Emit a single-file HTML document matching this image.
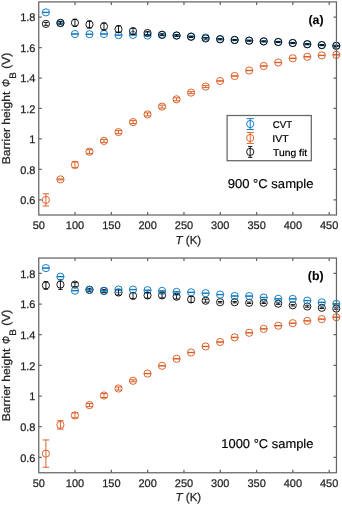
<!DOCTYPE html><html><head><meta charset="utf-8"><style>html,body{margin:0;padding:0;background:#fff;overflow:hidden;}svg{display:block;will-change:transform;}text{font-family:"Liberation Sans",sans-serif;fill:#262626;stroke:#262626;stroke-width:.25px;text-rendering:geometricPrecision;}text.k{fill:#000;stroke:#000;stroke-width:.18px;}text.l{fill:#000;stroke:#000;stroke-width:.22px;}text.b{fill:#000;stroke:#000;stroke-width:.1px;}</style></head><body>
<svg width="342" height="506" viewBox="0 0 342 506">
<g fill="none" stroke-width="0.9">
<path d="M45.90,12.20V12.60M42.60,12.20H49.20M42.60,12.60H49.20" stroke="#0072BD"/><circle cx="45.90" cy="12.40" r="3.6" stroke="#0072BD"/>
<path d="M60.42,22.90V23.30M57.12,22.90H63.72M57.12,23.30H63.72" stroke="#0072BD"/><circle cx="60.42" cy="23.10" r="3.6" stroke="#0072BD"/>
<path d="M74.94,33.80V34.20M71.64,33.80H78.24M71.64,34.20H78.24" stroke="#0072BD"/><circle cx="74.94" cy="34.00" r="3.6" stroke="#0072BD"/>
<path d="M89.46,34.00V34.40M86.16,34.00H92.76M86.16,34.40H92.76" stroke="#0072BD"/><circle cx="89.46" cy="34.20" r="3.6" stroke="#0072BD"/>
<path d="M103.98,33.80V34.20M100.68,33.80H107.28M100.68,34.20H107.28" stroke="#0072BD"/><circle cx="103.98" cy="34.00" r="3.6" stroke="#0072BD"/>
<path d="M118.50,34.90V35.30M115.20,34.90H121.80M115.20,35.30H121.80" stroke="#0072BD"/><circle cx="118.50" cy="35.10" r="3.6" stroke="#0072BD"/>
<path d="M133.02,34.70V35.10M129.72,34.70H136.32M129.72,35.10H136.32" stroke="#0072BD"/><circle cx="133.02" cy="34.90" r="3.6" stroke="#0072BD"/>
<path d="M147.54,35.30V35.70M144.24,35.30H150.84M144.24,35.70H150.84" stroke="#0072BD"/><circle cx="147.54" cy="35.50" r="3.6" stroke="#0072BD"/>
<path d="M162.06,34.80V35.20M158.76,34.80H165.36M158.76,35.20H165.36" stroke="#0072BD"/><circle cx="162.06" cy="35.00" r="3.6" stroke="#0072BD"/>
<path d="M176.58,35.40V35.80M173.28,35.40H179.88M173.28,35.80H179.88" stroke="#0072BD"/><circle cx="176.58" cy="35.60" r="3.6" stroke="#0072BD"/>
<path d="M191.10,36.30V36.70M187.80,36.30H194.40M187.80,36.70H194.40" stroke="#0072BD"/><circle cx="191.10" cy="36.50" r="3.6" stroke="#0072BD"/>
<path d="M205.62,37.40V37.80M202.32,37.40H208.92M202.32,37.80H208.92" stroke="#0072BD"/><circle cx="205.62" cy="37.60" r="3.6" stroke="#0072BD"/>
<path d="M220.14,38.80V39.20M216.84,38.80H223.44M216.84,39.20H223.44" stroke="#0072BD"/><circle cx="220.14" cy="39.00" r="3.6" stroke="#0072BD"/>
<path d="M234.66,39.70V40.10M231.36,39.70H237.96M231.36,40.10H237.96" stroke="#0072BD"/><circle cx="234.66" cy="39.90" r="3.6" stroke="#0072BD"/>
<path d="M249.18,40.40V40.80M245.88,40.40H252.48M245.88,40.80H252.48" stroke="#0072BD"/><circle cx="249.18" cy="40.60" r="3.6" stroke="#0072BD"/>
<path d="M263.70,41.20V41.60M260.40,41.20H267.00M260.40,41.60H267.00" stroke="#0072BD"/><circle cx="263.70" cy="41.40" r="3.6" stroke="#0072BD"/>
<path d="M278.22,41.80V42.20M274.92,41.80H281.52M274.92,42.20H281.52" stroke="#0072BD"/><circle cx="278.22" cy="42.00" r="3.6" stroke="#0072BD"/>
<path d="M292.74,42.80V43.20M289.44,42.80H296.04M289.44,43.20H296.04" stroke="#0072BD"/><circle cx="292.74" cy="43.00" r="3.6" stroke="#0072BD"/>
<path d="M307.26,44.00V44.40M303.96,44.00H310.56M303.96,44.40H310.56" stroke="#0072BD"/><circle cx="307.26" cy="44.20" r="3.6" stroke="#0072BD"/>
<path d="M321.78,44.90V45.30M318.48,44.90H325.08M318.48,45.30H325.08" stroke="#0072BD"/><circle cx="321.78" cy="45.10" r="3.6" stroke="#0072BD"/>
<path d="M336.30,45.60V46.00M333.00,45.60H339.60M333.00,46.00H339.60" stroke="#0072BD"/><circle cx="336.30" cy="45.80" r="3.6" stroke="#0072BD"/>
<path d="M45.90,193.80V206.00M42.60,193.80H49.20M42.60,206.00H49.20" stroke="#D95319"/><circle cx="45.90" cy="199.90" r="3.6" stroke="#D95319"/>
<path d="M60.42,178.90V179.90M57.12,178.90H63.72M57.12,179.90H63.72" stroke="#D95319"/><circle cx="60.42" cy="179.40" r="3.6" stroke="#D95319"/>
<path d="M74.94,161.80V167.80M71.64,161.80H78.24M71.64,167.80H78.24" stroke="#D95319"/><circle cx="74.94" cy="164.80" r="3.6" stroke="#D95319"/>
<path d="M89.46,149.70V153.70M86.16,149.70H92.76M86.16,153.70H92.76" stroke="#D95319"/><circle cx="89.46" cy="151.70" r="3.6" stroke="#D95319"/>
<path d="M103.98,139.40V142.40M100.68,139.40H107.28M100.68,142.40H107.28" stroke="#D95319"/><circle cx="103.98" cy="140.90" r="3.6" stroke="#D95319"/>
<path d="M118.50,130.60V133.60M115.20,130.60H121.80M115.20,133.60H121.80" stroke="#D95319"/><circle cx="118.50" cy="132.10" r="3.6" stroke="#D95319"/>
<path d="M133.02,120.60V123.60M129.72,120.60H136.32M129.72,123.60H136.32" stroke="#D95319"/><circle cx="133.02" cy="122.10" r="3.6" stroke="#D95319"/>
<path d="M147.54,112.90V115.90M144.24,112.90H150.84M144.24,115.90H150.84" stroke="#D95319"/><circle cx="147.54" cy="114.40" r="3.6" stroke="#D95319"/>
<path d="M162.06,105.10V108.10M158.76,105.10H165.36M158.76,108.10H165.36" stroke="#D95319"/><circle cx="162.06" cy="106.60" r="3.6" stroke="#D95319"/>
<path d="M176.58,97.80V100.80M173.28,97.80H179.88M173.28,100.80H179.88" stroke="#D95319"/><circle cx="176.58" cy="99.30" r="3.6" stroke="#D95319"/>
<path d="M191.10,91.60V93.60M187.80,91.60H194.40M187.80,93.60H194.40" stroke="#D95319"/><circle cx="191.10" cy="92.60" r="3.6" stroke="#D95319"/>
<path d="M205.62,85.60V87.60M202.32,85.60H208.92M202.32,87.60H208.92" stroke="#D95319"/><circle cx="205.62" cy="86.60" r="3.6" stroke="#D95319"/>
<path d="M220.14,80.80V81.20M216.84,80.80H223.44M216.84,81.20H223.44" stroke="#D95319"/><circle cx="220.14" cy="81.00" r="3.6" stroke="#D95319"/>
<path d="M234.66,75.80V76.20M231.36,75.80H237.96M231.36,76.20H237.96" stroke="#D95319"/><circle cx="234.66" cy="76.00" r="3.6" stroke="#D95319"/>
<path d="M249.18,70.30V70.70M245.88,70.30H252.48M245.88,70.70H252.48" stroke="#D95319"/><circle cx="249.18" cy="70.50" r="3.6" stroke="#D95319"/>
<path d="M263.70,65.80V66.20M260.40,65.80H267.00M260.40,66.20H267.00" stroke="#D95319"/><circle cx="263.70" cy="66.00" r="3.6" stroke="#D95319"/>
<path d="M278.22,62.30V62.70M274.92,62.30H281.52M274.92,62.70H281.52" stroke="#D95319"/><circle cx="278.22" cy="62.50" r="3.6" stroke="#D95319"/>
<path d="M292.74,58.10V58.50M289.44,58.10H296.04M289.44,58.50H296.04" stroke="#D95319"/><circle cx="292.74" cy="58.30" r="3.6" stroke="#D95319"/>
<path d="M307.26,56.60V57.00M303.96,56.60H310.56M303.96,57.00H310.56" stroke="#D95319"/><circle cx="307.26" cy="56.80" r="3.6" stroke="#D95319"/>
<path d="M321.78,55.20V55.60M318.48,55.20H325.08M318.48,55.60H325.08" stroke="#D95319"/><circle cx="321.78" cy="55.40" r="3.6" stroke="#D95319"/>
<path d="M336.30,54.60V55.00M333.00,54.60H339.60M333.00,55.00H339.60" stroke="#D95319"/><circle cx="336.30" cy="54.80" r="3.6" stroke="#D95319"/>
<path d="M45.90,22.45V25.35M43.70,22.45H48.10M43.70,25.35H48.10" stroke="#000000"/><circle cx="45.90" cy="23.90" r="3.6" stroke="#000000"/>
<path d="M60.42,21.50V24.30M58.22,21.50H62.62M58.22,24.30H62.62" stroke="#000000"/><circle cx="60.42" cy="22.90" r="3.6" stroke="#000000"/>
<path d="M74.94,19.20V26.40M72.74,19.20H77.14M72.74,26.40H77.14" stroke="#000000"/><circle cx="74.94" cy="22.80" r="3.6" stroke="#000000"/>
<path d="M89.46,20.90V28.10M87.26,20.90H91.66M87.26,28.10H91.66" stroke="#000000"/><circle cx="89.46" cy="24.50" r="3.6" stroke="#000000"/>
<path d="M103.98,22.90V30.10M101.78,22.90H106.18M101.78,30.10H106.18" stroke="#000000"/><circle cx="103.98" cy="26.50" r="3.6" stroke="#000000"/>
<path d="M118.50,25.80V32.60M116.30,25.80H120.70M116.30,32.60H120.70" stroke="#000000"/><circle cx="118.50" cy="29.20" r="3.6" stroke="#000000"/>
<path d="M133.02,28.20V34.20M130.82,28.20H135.22M130.82,34.20H135.22" stroke="#000000"/><circle cx="133.02" cy="31.20" r="3.6" stroke="#000000"/>
<path d="M147.54,31.40V34.60M145.34,31.40H149.74M145.34,34.60H149.74" stroke="#000000"/><circle cx="147.54" cy="33.00" r="3.6" stroke="#000000"/>
<path d="M162.06,33.70V35.70M159.86,33.70H164.26M159.86,35.70H164.26" stroke="#000000"/><circle cx="162.06" cy="34.70" r="3.6" stroke="#000000"/>
<path d="M176.58,34.50V36.50M174.38,34.50H178.78M174.38,36.50H178.78" stroke="#000000"/><circle cx="176.58" cy="35.50" r="3.6" stroke="#000000"/>
<path d="M191.10,36.10V37.50M188.90,36.10H193.30M188.90,37.50H193.30" stroke="#000000"/><circle cx="191.10" cy="36.80" r="3.6" stroke="#000000"/>
<path d="M205.62,37.80V39.20M203.42,37.80H207.82M203.42,39.20H207.82" stroke="#000000"/><circle cx="205.62" cy="38.50" r="3.6" stroke="#000000"/>
<path d="M220.14,38.70V39.90M217.94,38.70H222.34M217.94,39.90H222.34" stroke="#000000"/><circle cx="220.14" cy="39.30" r="3.6" stroke="#000000"/>
<path d="M234.66,39.40V40.60M232.46,39.40H236.86M232.46,40.60H236.86" stroke="#000000"/><circle cx="234.66" cy="40.00" r="3.6" stroke="#000000"/>
<path d="M249.18,40.10V41.30M246.98,40.10H251.38M246.98,41.30H251.38" stroke="#000000"/><circle cx="249.18" cy="40.70" r="3.6" stroke="#000000"/>
<path d="M263.70,40.80V42.00M261.50,40.80H265.90M261.50,42.00H265.90" stroke="#000000"/><circle cx="263.70" cy="41.40" r="3.6" stroke="#000000"/>
<path d="M278.22,41.40V42.60M276.02,41.40H280.42M276.02,42.60H280.42" stroke="#000000"/><circle cx="278.22" cy="42.00" r="3.6" stroke="#000000"/>
<path d="M292.74,42.40V43.60M290.54,42.40H294.94M290.54,43.60H294.94" stroke="#000000"/><circle cx="292.74" cy="43.00" r="3.6" stroke="#000000"/>
<path d="M307.26,43.60V44.80M305.06,43.60H309.46M305.06,44.80H309.46" stroke="#000000"/><circle cx="307.26" cy="44.20" r="3.6" stroke="#000000"/>
<path d="M321.78,44.50V45.70M319.58,44.50H323.98M319.58,45.70H323.98" stroke="#000000"/><circle cx="321.78" cy="45.10" r="3.6" stroke="#000000"/>
<path d="M336.30,45.20V46.40M334.10,45.20H338.50M334.10,46.40H338.50" stroke="#000000"/><circle cx="336.30" cy="45.80" r="3.6" stroke="#000000"/>
</g>
<rect x="38.75" y="1.9" width="297.70" height="213.10" fill="none" stroke="#666666" stroke-width="1.25"/>
<path d="M75.05,215.00v-3.0M75.05,1.90v3.0M111.36,215.00v-3.0M111.36,1.90v3.0M147.66,215.00v-3.0M147.66,1.90v3.0M183.97,215.00v-3.0M183.97,1.90v3.0M220.27,215.00v-3.0M220.27,1.90v3.0M256.58,215.00v-3.0M256.58,1.90v3.0M292.88,215.00v-3.0M292.88,1.90v3.0M329.19,215.00v-3.0M329.19,1.90v3.0M38.75,199.78h3.0M336.45,199.78h-3.0M38.75,169.34h3.0M336.45,169.34h-3.0M38.75,138.89h3.0M336.45,138.89h-3.0M38.75,108.45h3.0M336.45,108.45h-3.0M38.75,78.01h3.0M336.45,78.01h-3.0M38.75,47.56h3.0M336.45,47.56h-3.0M38.75,17.12h3.0M336.45,17.12h-3.0" stroke="#666666" stroke-width="1.25" fill="none"/>
<text x="38.75" y="229.40" font-size="11" text-anchor="middle">50</text>
<text x="75.05" y="229.40" font-size="11" text-anchor="middle">100</text>
<text x="111.36" y="229.40" font-size="11" text-anchor="middle">150</text>
<text x="147.66" y="229.40" font-size="11" text-anchor="middle">200</text>
<text x="183.97" y="229.40" font-size="11" text-anchor="middle">250</text>
<text x="220.27" y="229.40" font-size="11" text-anchor="middle">300</text>
<text x="256.58" y="229.40" font-size="11" text-anchor="middle">350</text>
<text x="292.88" y="229.40" font-size="11" text-anchor="middle">400</text>
<text x="329.19" y="229.40" font-size="11" text-anchor="middle">450</text>
<text x="35.45" y="204.03" font-size="11" text-anchor="end">0.6</text>
<text x="35.45" y="173.59" font-size="11" text-anchor="end">0.8</text>
<text x="35.45" y="143.14" font-size="11" text-anchor="end">1</text>
<text x="35.45" y="112.70" font-size="11" text-anchor="end">1.2</text>
<text x="35.45" y="82.26" font-size="11" text-anchor="end">1.4</text>
<text x="35.45" y="51.81" font-size="11" text-anchor="end">1.6</text>
<text x="35.45" y="21.37" font-size="11" text-anchor="end">1.8</text>
<text x="175.6" y="244.30" font-size="11.5"><tspan font-style="italic">T</tspan> (K)</text>
<text transform="translate(10.00,163.35) rotate(-90)" x="-0.97" y="0" font-size="11.3" textLength="72.57" lengthAdjust="spacingAndGlyphs" >Barrier height</text>
<text transform="translate(10.30,86.35) rotate(-90)" x="-0.57" y="0" font-size="11.5" font-style="italic" textLength="7.92" lengthAdjust="spacingAndGlyphs" >Φ</text>
<text transform="translate(15.95,78.05) rotate(-90)" x="-0.79" y="0" font-size="9.5" textLength="6.61" lengthAdjust="spacingAndGlyphs" >B</text>
<text transform="translate(10.00,68.05) rotate(-90)" x="-0.73" y="0" font-size="11.7" textLength="16.20" lengthAdjust="spacingAndGlyphs" >(V)</text>
<text x="323.5" y="24.15" font-size="12.3" font-weight="bold" class="b" text-anchor="end">(a)</text>
<text x="227.66" y="188.00" font-size="12.8" textLength="85.77" lengthAdjust="spacingAndGlyphs" class="k">900 °C sample</text>
<rect x="227.1" y="115.5" width="84.2" height="45.2" fill="#fff" stroke="#666666" stroke-width="1.25"/>
<g fill="none" stroke="#0072BD" stroke-width="0.9"><path d="M250.2,118.60V129.50M246.6,118.60H253.79999999999998M246.6,129.50H253.79999999999998"/><circle cx="250.2" cy="124.05" r="3.6"/></g>
<text x="272.77" y="128.25" font-size="9.8" textLength="19.28" lengthAdjust="spacingAndGlyphs" class="l">CVT</text>
<g fill="none" stroke="#D95319" stroke-width="0.9"><path d="M250.2,132.55V143.45M246.6,132.55H253.79999999999998M246.6,143.45H253.79999999999998"/><circle cx="250.2" cy="138.0" r="3.6"/></g>
<text x="272.31" y="142.35" font-size="9.8" textLength="16.26" lengthAdjust="spacingAndGlyphs" class="l">IVT</text>
<g fill="none" stroke="#000000" stroke-width="0.9"><path d="M250.2,146.45V157.35M248.0,146.45H252.39999999999998M248.0,157.35H252.39999999999998"/><circle cx="250.2" cy="151.9" r="3.6"/></g>
<text x="273.04" y="156.10" font-size="9.8" textLength="34.09" lengthAdjust="spacingAndGlyphs" class="l">Tung fit</text>
<g fill="none" stroke-width="0.9">
<path d="M45.90,281.60V289.20M43.70,281.60H48.10M43.70,289.20H48.10" stroke="#000000"/><circle cx="45.90" cy="285.40" r="3.6" stroke="#000000"/>
<path d="M60.42,279.80V289.40M58.22,279.80H62.62M58.22,289.40H62.62" stroke="#000000"/><circle cx="60.42" cy="284.60" r="3.6" stroke="#000000"/>
<path d="M74.94,282.60V286.60M72.74,282.60H77.14M72.74,286.60H77.14" stroke="#000000"/><circle cx="74.94" cy="284.60" r="3.6" stroke="#000000"/>
<path d="M89.46,288.30V291.30M87.26,288.30H91.66M87.26,291.30H91.66" stroke="#000000"/><circle cx="89.46" cy="289.80" r="3.6" stroke="#000000"/>
<path d="M103.98,289.40V292.40M101.78,289.40H106.18M101.78,292.40H106.18" stroke="#000000"/><circle cx="103.98" cy="290.90" r="3.6" stroke="#000000"/>
<path d="M118.50,290.00V295.00M116.30,290.00H120.70M116.30,295.00H120.70" stroke="#000000"/><circle cx="118.50" cy="292.50" r="3.6" stroke="#000000"/>
<path d="M133.02,292.80V298.80M130.82,292.80H135.22M130.82,298.80H135.22" stroke="#000000"/><circle cx="133.02" cy="295.80" r="3.6" stroke="#000000"/>
<path d="M147.54,292.60V298.20M145.34,292.60H149.74M145.34,298.20H149.74" stroke="#000000"/><circle cx="147.54" cy="295.40" r="3.6" stroke="#000000"/>
<path d="M162.06,292.90V297.90M159.86,292.90H164.26M159.86,297.90H164.26" stroke="#000000"/><circle cx="162.06" cy="295.40" r="3.6" stroke="#000000"/>
<path d="M176.58,294.50V298.90M174.38,294.50H178.78M174.38,298.90H178.78" stroke="#000000"/><circle cx="176.58" cy="296.70" r="3.6" stroke="#000000"/>
<path d="M191.10,296.40V302.40M188.90,296.40H193.30M188.90,302.40H193.30" stroke="#000000"/><circle cx="191.10" cy="299.40" r="3.6" stroke="#000000"/>
<path d="M205.62,299.20V302.20M203.42,299.20H207.82M203.42,302.20H207.82" stroke="#000000"/><circle cx="205.62" cy="300.70" r="3.6" stroke="#000000"/>
<path d="M220.14,301.50V302.90M217.94,301.50H222.34M217.94,302.90H222.34" stroke="#000000"/><circle cx="220.14" cy="302.20" r="3.6" stroke="#000000"/>
<path d="M234.66,301.50V302.90M232.46,301.50H236.86M232.46,302.90H236.86" stroke="#000000"/><circle cx="234.66" cy="302.20" r="3.6" stroke="#000000"/>
<path d="M249.18,302.10V303.50M246.98,302.10H251.38M246.98,303.50H251.38" stroke="#000000"/><circle cx="249.18" cy="302.80" r="3.6" stroke="#000000"/>
<path d="M263.70,302.10V303.50M261.50,302.10H265.90M261.50,303.50H265.90" stroke="#000000"/><circle cx="263.70" cy="302.80" r="3.6" stroke="#000000"/>
<path d="M278.22,303.00V304.40M276.02,303.00H280.42M276.02,304.40H280.42" stroke="#000000"/><circle cx="278.22" cy="303.70" r="3.6" stroke="#000000"/>
<path d="M292.74,304.60V306.00M290.54,304.60H294.94M290.54,306.00H294.94" stroke="#000000"/><circle cx="292.74" cy="305.30" r="3.6" stroke="#000000"/>
<path d="M307.26,305.80V307.20M305.06,305.80H309.46M305.06,307.20H309.46" stroke="#000000"/><circle cx="307.26" cy="306.50" r="3.6" stroke="#000000"/>
<path d="M321.78,307.10V308.50M319.58,307.10H323.98M319.58,308.50H323.98" stroke="#000000"/><circle cx="321.78" cy="307.80" r="3.6" stroke="#000000"/>
<path d="M336.30,307.90V309.30M334.10,307.90H338.50M334.10,309.30H338.50" stroke="#000000"/><circle cx="336.30" cy="308.60" r="3.6" stroke="#000000"/>
<path d="M45.90,439.95V467.25M42.60,439.95H49.20M42.60,467.25H49.20" stroke="#D95319"/><circle cx="45.90" cy="453.60" r="3.6" stroke="#D95319"/>
<path d="M60.42,420.70V429.10M57.12,420.70H63.72M57.12,429.10H63.72" stroke="#D95319"/><circle cx="60.42" cy="424.90" r="3.6" stroke="#D95319"/>
<path d="M74.94,412.90V417.90M71.64,412.90H78.24M71.64,417.90H78.24" stroke="#D95319"/><circle cx="74.94" cy="415.40" r="3.6" stroke="#D95319"/>
<path d="M89.46,403.60V406.60M86.16,403.60H92.76M86.16,406.60H92.76" stroke="#D95319"/><circle cx="89.46" cy="405.10" r="3.6" stroke="#D95319"/>
<path d="M103.98,393.50V397.50M100.68,393.50H107.28M100.68,397.50H107.28" stroke="#D95319"/><circle cx="103.98" cy="395.50" r="3.6" stroke="#D95319"/>
<path d="M118.50,387.00V390.00M115.20,387.00H121.80M115.20,390.00H121.80" stroke="#D95319"/><circle cx="118.50" cy="388.50" r="3.6" stroke="#D95319"/>
<path d="M133.02,379.80V381.80M129.72,379.80H136.32M129.72,381.80H136.32" stroke="#D95319"/><circle cx="133.02" cy="380.80" r="3.6" stroke="#D95319"/>
<path d="M147.54,373.40V373.80M144.24,373.40H150.84M144.24,373.80H150.84" stroke="#D95319"/><circle cx="147.54" cy="373.60" r="3.6" stroke="#D95319"/>
<path d="M162.06,365.60V366.00M158.76,365.60H165.36M158.76,366.00H165.36" stroke="#D95319"/><circle cx="162.06" cy="365.80" r="3.6" stroke="#D95319"/>
<path d="M176.58,358.60V359.00M173.28,358.60H179.88M173.28,359.00H179.88" stroke="#D95319"/><circle cx="176.58" cy="358.80" r="3.6" stroke="#D95319"/>
<path d="M191.10,352.30V352.70M187.80,352.30H194.40M187.80,352.70H194.40" stroke="#D95319"/><circle cx="191.10" cy="352.50" r="3.6" stroke="#D95319"/>
<path d="M205.62,346.30V346.70M202.32,346.30H208.92M202.32,346.70H208.92" stroke="#D95319"/><circle cx="205.62" cy="346.50" r="3.6" stroke="#D95319"/>
<path d="M220.14,341.80V342.20M216.84,341.80H223.44M216.84,342.20H223.44" stroke="#D95319"/><circle cx="220.14" cy="342.00" r="3.6" stroke="#D95319"/>
<path d="M234.66,337.20V337.60M231.36,337.20H237.96M231.36,337.60H237.96" stroke="#D95319"/><circle cx="234.66" cy="337.40" r="3.6" stroke="#D95319"/>
<path d="M249.18,332.60V333.00M245.88,332.60H252.48M245.88,333.00H252.48" stroke="#D95319"/><circle cx="249.18" cy="332.80" r="3.6" stroke="#D95319"/>
<path d="M263.70,328.70V329.10M260.40,328.70H267.00M260.40,329.10H267.00" stroke="#D95319"/><circle cx="263.70" cy="328.90" r="3.6" stroke="#D95319"/>
<path d="M278.22,325.50V325.90M274.92,325.50H281.52M274.92,325.90H281.52" stroke="#D95319"/><circle cx="278.22" cy="325.70" r="3.6" stroke="#D95319"/>
<path d="M292.74,323.00V323.40M289.44,323.00H296.04M289.44,323.40H296.04" stroke="#D95319"/><circle cx="292.74" cy="323.20" r="3.6" stroke="#D95319"/>
<path d="M307.26,320.70V321.10M303.96,320.70H310.56M303.96,321.10H310.56" stroke="#D95319"/><circle cx="307.26" cy="320.90" r="3.6" stroke="#D95319"/>
<path d="M321.78,318.90V319.30M318.48,318.90H325.08M318.48,319.30H325.08" stroke="#D95319"/><circle cx="321.78" cy="319.10" r="3.6" stroke="#D95319"/>
<path d="M336.30,317.00V317.40M333.00,317.00H339.60M333.00,317.40H339.60" stroke="#D95319"/><circle cx="336.30" cy="317.20" r="3.6" stroke="#D95319"/>
<path d="M45.90,267.90V268.30M42.60,267.90H49.20M42.60,268.30H49.20" stroke="#0072BD"/><circle cx="45.90" cy="268.10" r="3.6" stroke="#0072BD"/>
<path d="M60.42,276.50V276.90M57.12,276.50H63.72M57.12,276.90H63.72" stroke="#0072BD"/><circle cx="60.42" cy="276.70" r="3.6" stroke="#0072BD"/>
<path d="M74.94,290.50V290.90M71.64,290.50H78.24M71.64,290.90H78.24" stroke="#0072BD"/><circle cx="74.94" cy="290.70" r="3.6" stroke="#0072BD"/>
<path d="M89.46,289.60V290.00M86.16,289.60H92.76M86.16,290.00H92.76" stroke="#0072BD"/><circle cx="89.46" cy="289.80" r="3.6" stroke="#0072BD"/>
<path d="M103.98,290.70V291.10M100.68,290.70H107.28M100.68,291.10H107.28" stroke="#0072BD"/><circle cx="103.98" cy="290.90" r="3.6" stroke="#0072BD"/>
<path d="M118.50,289.30V289.70M115.20,289.30H121.80M115.20,289.70H121.80" stroke="#0072BD"/><circle cx="118.50" cy="289.50" r="3.6" stroke="#0072BD"/>
<path d="M133.02,289.40V289.80M129.72,289.40H136.32M129.72,289.80H136.32" stroke="#0072BD"/><circle cx="133.02" cy="289.60" r="3.6" stroke="#0072BD"/>
<path d="M147.54,290.00V290.40M144.24,290.00H150.84M144.24,290.40H150.84" stroke="#0072BD"/><circle cx="147.54" cy="290.20" r="3.6" stroke="#0072BD"/>
<path d="M162.06,290.70V291.10M158.76,290.70H165.36M158.76,291.10H165.36" stroke="#0072BD"/><circle cx="162.06" cy="290.90" r="3.6" stroke="#0072BD"/>
<path d="M176.58,291.70V292.10M173.28,291.70H179.88M173.28,292.10H179.88" stroke="#0072BD"/><circle cx="176.58" cy="291.90" r="3.6" stroke="#0072BD"/>
<path d="M191.10,292.10V292.50M187.80,292.10H194.40M187.80,292.50H194.40" stroke="#0072BD"/><circle cx="191.10" cy="292.30" r="3.6" stroke="#0072BD"/>
<path d="M205.62,293.00V293.40M202.32,293.00H208.92M202.32,293.40H208.92" stroke="#0072BD"/><circle cx="205.62" cy="293.20" r="3.6" stroke="#0072BD"/>
<path d="M220.14,294.40V294.80M216.84,294.40H223.44M216.84,294.80H223.44" stroke="#0072BD"/><circle cx="220.14" cy="294.60" r="3.6" stroke="#0072BD"/>
<path d="M234.66,295.80V296.20M231.36,295.80H237.96M231.36,296.20H237.96" stroke="#0072BD"/><circle cx="234.66" cy="296.00" r="3.6" stroke="#0072BD"/>
<path d="M249.18,295.90V296.30M245.88,295.90H252.48M245.88,296.30H252.48" stroke="#0072BD"/><circle cx="249.18" cy="296.10" r="3.6" stroke="#0072BD"/>
<path d="M263.70,297.30V297.70M260.40,297.30H267.00M260.40,297.70H267.00" stroke="#0072BD"/><circle cx="263.70" cy="297.50" r="3.6" stroke="#0072BD"/>
<path d="M278.22,298.60V299.00M274.92,298.60H281.52M274.92,299.00H281.52" stroke="#0072BD"/><circle cx="278.22" cy="298.80" r="3.6" stroke="#0072BD"/>
<path d="M292.74,298.70V299.10M289.44,298.70H296.04M289.44,299.10H296.04" stroke="#0072BD"/><circle cx="292.74" cy="298.90" r="3.6" stroke="#0072BD"/>
<path d="M307.26,300.40V300.80M303.96,300.40H310.56M303.96,300.80H310.56" stroke="#0072BD"/><circle cx="307.26" cy="300.60" r="3.6" stroke="#0072BD"/>
<path d="M321.78,302.10V302.50M318.48,302.10H325.08M318.48,302.50H325.08" stroke="#0072BD"/><circle cx="321.78" cy="302.30" r="3.6" stroke="#0072BD"/>
<path d="M336.30,303.70V304.10M333.00,303.70H339.60M333.00,304.10H339.60" stroke="#0072BD"/><circle cx="336.30" cy="303.90" r="3.6" stroke="#0072BD"/>
</g>
<rect x="38.75" y="258.05" width="297.70" height="214.70" fill="none" stroke="#666666" stroke-width="1.25"/>
<path d="M75.05,472.75v-3.0M75.05,258.05v3.0M111.36,472.75v-3.0M111.36,258.05v3.0M147.66,472.75v-3.0M147.66,258.05v3.0M183.97,472.75v-3.0M183.97,258.05v3.0M220.27,472.75v-3.0M220.27,258.05v3.0M256.58,472.75v-3.0M256.58,258.05v3.0M292.88,472.75v-3.0M292.88,258.05v3.0M329.19,472.75v-3.0M329.19,258.05v3.0M38.75,457.41h3.0M336.45,457.41h-3.0M38.75,426.74h3.0M336.45,426.74h-3.0M38.75,396.07h3.0M336.45,396.07h-3.0M38.75,365.40h3.0M336.45,365.40h-3.0M38.75,334.73h3.0M336.45,334.73h-3.0M38.75,304.06h3.0M336.45,304.06h-3.0M38.75,273.39h3.0M336.45,273.39h-3.0" stroke="#666666" stroke-width="1.25" fill="none"/>
<text x="38.75" y="487.15" font-size="11" text-anchor="middle">50</text>
<text x="75.05" y="487.15" font-size="11" text-anchor="middle">100</text>
<text x="111.36" y="487.15" font-size="11" text-anchor="middle">150</text>
<text x="147.66" y="487.15" font-size="11" text-anchor="middle">200</text>
<text x="183.97" y="487.15" font-size="11" text-anchor="middle">250</text>
<text x="220.27" y="487.15" font-size="11" text-anchor="middle">300</text>
<text x="256.58" y="487.15" font-size="11" text-anchor="middle">350</text>
<text x="292.88" y="487.15" font-size="11" text-anchor="middle">400</text>
<text x="329.19" y="487.15" font-size="11" text-anchor="middle">450</text>
<text x="35.45" y="461.66" font-size="11" text-anchor="end">0.6</text>
<text x="35.45" y="430.99" font-size="11" text-anchor="end">0.8</text>
<text x="35.45" y="400.32" font-size="11" text-anchor="end">1</text>
<text x="35.45" y="369.65" font-size="11" text-anchor="end">1.2</text>
<text x="35.45" y="338.98" font-size="11" text-anchor="end">1.4</text>
<text x="35.45" y="308.31" font-size="11" text-anchor="end">1.6</text>
<text x="35.45" y="277.64" font-size="11" text-anchor="end">1.8</text>
<text x="175.6" y="501.30" font-size="11.5"><tspan font-style="italic">T</tspan> (K)</text>
<text transform="translate(10.00,420.35) rotate(-90)" x="-0.97" y="0" font-size="11.3" textLength="72.57" lengthAdjust="spacingAndGlyphs" >Barrier height</text>
<text transform="translate(10.30,343.35) rotate(-90)" x="-0.57" y="0" font-size="11.5" font-style="italic" textLength="7.92" lengthAdjust="spacingAndGlyphs" >Φ</text>
<text transform="translate(15.95,335.05) rotate(-90)" x="-0.79" y="0" font-size="9.5" textLength="6.61" lengthAdjust="spacingAndGlyphs" >B</text>
<text transform="translate(10.00,325.05) rotate(-90)" x="-0.73" y="0" font-size="11.7" textLength="16.20" lengthAdjust="spacingAndGlyphs" >(V)</text>
<text x="323.5" y="280.4" font-size="12.3" font-weight="bold" class="b" text-anchor="end">(b)</text>
<text x="221.28" y="448.00" font-size="12.8" textLength="92.17" lengthAdjust="spacingAndGlyphs" class="k">1000 °C sample</text>
</svg></body></html>
